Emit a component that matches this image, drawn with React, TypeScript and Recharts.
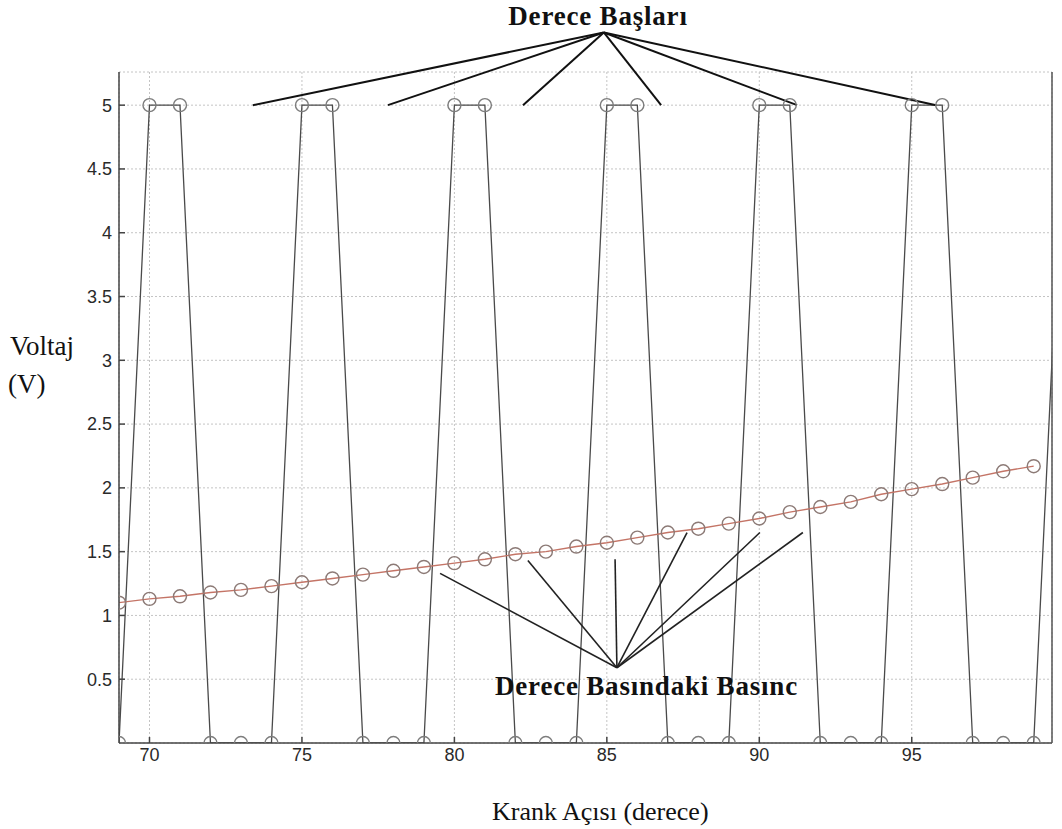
import { CartesianGrid, Line, LineChart, ReferenceLine, XAxis, YAxis } from "recharts";

// crank angle (degrees) for every sample
const angles = [
  69, 70, 71, 72, 73, 74, 75, 76, 77, 78, 79, 80, 81, 82, 83, 84,
  85, 86, 87, 88, 89, 90, 91, 92, 93, 94, 95, 96, 97, 98, 99, 100,
];
// degree-marker pulse (V)
const pulse = [
  0, 5, 5, 0, 0, 0, 5, 5, 0, 0, 0, 5, 5, 0, 0, 0,
  5, 5, 0, 0, 0, 5, 5, 0, 0, 0, 5, 5, 0, 0, 0, 5,
];
// pressure sensor voltage (V), last angle has no sample
const pressure = [
  1.1, 1.13, 1.15, 1.18, 1.2, 1.23, 1.26, 1.29, 1.32, 1.35, 1.38, 1.41, 1.44, 1.48, 1.5, 1.54,
  1.57, 1.61, 1.65, 1.68, 1.72, 1.76, 1.81, 1.85, 1.89, 1.95, 1.99, 2.03, 2.08, 2.13, 2.17,
];

const xTicks = [70, 75, 80, 85, 90, 95];
const yTicks = [0.5, 1, 1.5, 2, 2.5, 3, 3.5, 4, 4.5, 5];

// callout "Derece Başları": apex above the plot, pointing at the 5 V level
const startsApex = { x: 84.9, y: 5.57 };
const startsTargets = [
  { x: 73.39, y: 5 },
  { x: 77.82, y: 5 },
  { x: 82.25, y: 5 },
  { x: 86.78, y: 5 },
  { x: 91.24, y: 5 },
  { x: 95.8, y: 5 },
];
// callout "Derece Basındaki Basınc": apex near the label, pointing under the pressure curve
const pressApex = { x: 85.33, y: 0.59 };
const pressTargets = [
  { x: 79.53, y: 1.33 },
  { x: 82.41, y: 1.43 },
  { x: 85.27, y: 1.44 },
  { x: 87.63, y: 1.65 },
  { x: 90.02, y: 1.65 },
  { x: 91.43, y: 1.65 },
];

const data = angles.map((a, i) => ({ angle: a, pulse: pulse[i], pressure: pressure[i] }));

const tickFont = { fontFamily: "Liberation Sans, Arial, sans-serif", fontSize: 18, fill: "#2a2a2a" };
const serif = "Liberation Serif, Times New Roman, serif";

export default function App() {
  return (
    <div style={{ position: "absolute", left: 0, top: 0, width: 1062, height: 829, background: "#fff" }}>
      <LineChart width={1062} height={829} data={data} margin={{ top: 72, right: 9, bottom: 56, left: 59 }}>
        <CartesianGrid stroke="#c4c4c4" strokeDasharray="2 2" />
        <XAxis
          dataKey="angle"
          type="number"
          domain={[69, 99.6]}
          allowDataOverflow
          ticks={xTicks}
          height={30}
          tickSize={-6}
          tickMargin={11}
          stroke="#444"
          strokeWidth={1.5}
          tick={tickFont}
        />
        <YAxis
          type="number"
          domain={[0, 5.26]}
          allowDataOverflow
          ticks={yTicks}
          width={60}
          tickSize={-6}
          tickMargin={13}
          stroke="#444"
          strokeWidth={1.5}
          tick={tickFont}
        />
        <YAxis
          yAxisId="right"
          orientation="right"
          type="number"
          domain={[0, 5.26]}
          allowDataOverflow
          ticks={yTicks}
          width={1}
          tickSize={-6}
          tick={false}
          stroke="#555"
          strokeWidth={1.5}
        />
        <Line
          dataKey="pulse"
          stroke="#4a4a4a"
          strokeWidth={1.3}
          dot={{ r: 6.5, stroke: "#7d7d7d", strokeWidth: 1.4, fill: "none" }}
          isAnimationActive={false}
        />
        <Line
          dataKey="pressure"
          stroke="#c47466"
          strokeWidth={1.4}
          dot={{ r: 6.5, stroke: "#8c7a76", strokeWidth: 1.4, fill: "none" }}
          isAnimationActive={false}
        />
        {startsTargets.map((t, i) => (
          <ReferenceLine
            key={"s" + i}
            segment={[startsApex, t]}
            stroke="#111"
            strokeWidth={2}
            ifOverflow="visible"
          />
        ))}
        {pressTargets.map((t, i) => (
          <ReferenceLine
            key={"p" + i}
            segment={[pressApex, t]}
            stroke="#222"
            strokeWidth={1.6}
            ifOverflow="visible"
          />
        ))}
      </LineChart>
      <svg
        width={1062}
        height={829}
        style={{ position: "absolute", left: 0, top: 0, pointerEvents: "none" }}
      >
        <text x={598} y={25} textAnchor="middle" fontFamily={serif} fontWeight="bold" fontSize={27} letterSpacing={0.8} fill="#111">
          Derece Başları
        </text>
        <text x={495} y={695} fontFamily={serif} fontWeight="bold" fontSize={27} letterSpacing={0.8} fill="#111">
          Derece Basındaki Basınc
        </text>
        <text x={10} y={355} fontFamily={serif} fontSize={27} fill="#111">
          Voltaj
        </text>
        <text x={8} y={393} fontFamily={serif} fontSize={27} fill="#111">
          (V)
        </text>
        <text x={492} y={820} fontFamily={serif} fontSize={26} fill="#111">
          Krank Açısı (derece)
        </text>
      </svg>
    </div>
  );
}
